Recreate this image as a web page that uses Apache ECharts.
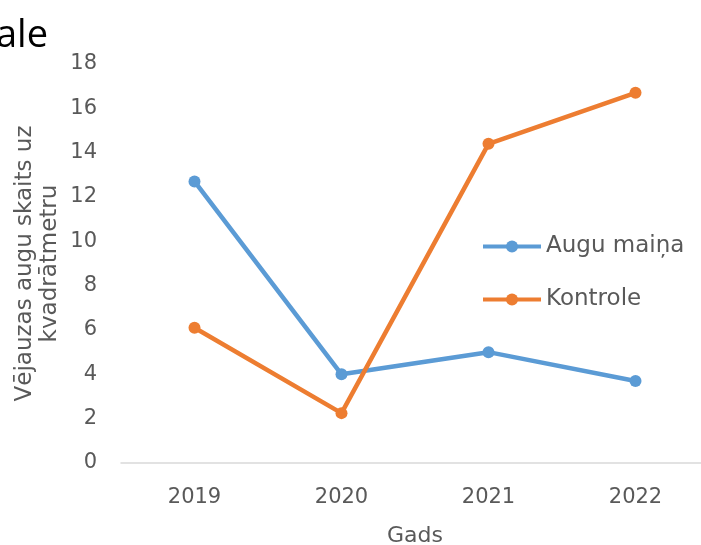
<!DOCTYPE html>
<html>
<head>
<meta charset="utf-8">
<script src="https://cdn.jsdelivr.net/npm/echarts@6/dist/echarts.min.js"></script>
<style>
  html, body { margin: 0; padding: 0; background: #fff; }
  #chart { width: 701px; height: 545px; }
</style>
</head>
<body>
<div id="chart"></div>
<script>
const years = ['2019', '2020', '2021', '2022']
const auguMaina = [12.7, 4.0, 5.0, 3.7]
const kontrole = [6.1, 2.25, 14.4, 16.7]

const FONT = 'DejaVu Sans, sans-serif'
const TXT = '#595959'

const chart = echarts.init(document.getElementById('chart'))

chart.setOption({
  animation: false,
  title: {
    text: 'ale',
    left: -9,
    top: 12,
    textStyle: { fontFamily: 'Open Sans, sans-serif', fontSize: 38, fontWeight: 'normal', color: '#000' },
  },
  legend: {
    orient: 'vertical',
    left: 476,
    top: 230,
    itemWidth: 58,
    itemHeight: 15,
    itemGap: 30,
    lineStyle: { width: 4 },
    textStyle: { fontFamily: FONT, fontSize: 23, color: TXT },
    data: ['Augu maiņa', 'Kontrole'],
  },
  grid: { left: 121, top: 64, width: 588, bottom: 82, containLabel: false, outerBoundsMode: 'none' },
  xAxis: {
    type: 'category',
    data: years,
    name: 'Gads',
    nameLocation: 'middle',
    nameGap: 62,
    nameMoveOverlap: false,
    nameTextStyle: { fontFamily: FONT, fontSize: 22, color: TXT },
    axisLine: { lineStyle: { color: '#d9d9d9', width: 1.5 } },
    axisTick: { show: false },
    axisLabel: { fontFamily: FONT, fontSize: 21, color: TXT, margin: 24 },
  },
  yAxis: {
    type: 'value',
    min: 0,
    max: 18,
    interval: 2,
    name: 'Vējauzas augu skaits uz\nkvadrātmetru',
    nameLocation: 'middle',
    nameGap: 58,
    nameMoveOverlap: false,
    nameTextStyle: { fontFamily: FONT, fontSize: 23, color: TXT, lineHeight: 25 },
    axisLine: { show: false },
    axisTick: { show: false },
    splitLine: { show: false },
    axisLabel: { fontFamily: FONT, fontSize: 21, color: TXT, margin: 24 },
  },
  series: [
    {
      name: 'Augu maiņa',
      type: 'line',
      data: auguMaina,
      symbol: 'circle',
      symbolSize: 12,
      lineStyle: { width: 4.5, color: '#5B9BD5' },
      itemStyle: { color: '#5B9BD5' },
    },
    {
      name: 'Kontrole',
      type: 'line',
      data: kontrole,
      symbol: 'circle',
      symbolSize: 12,
      lineStyle: { width: 4.5, color: '#ED7D31' },
      itemStyle: { color: '#ED7D31' },
    },
  ],
})
</script>
</body>
</html>
